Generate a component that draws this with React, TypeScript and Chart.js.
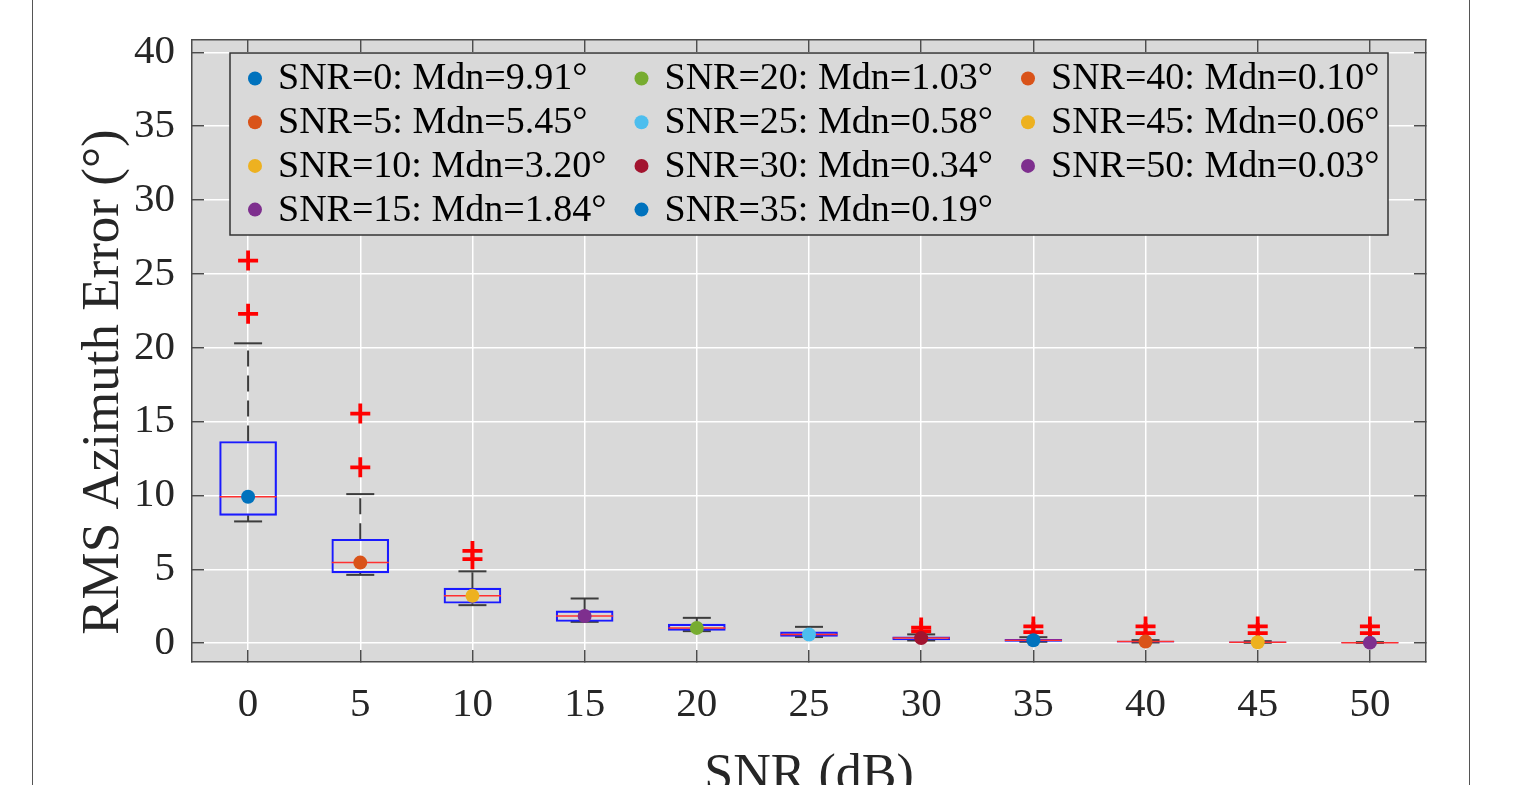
import React, { useEffect, useRef } from 'react';
import { Chart, registerables } from 'chart.js';

Chart.register(...registerables);

// ---- data ----
const snrValues = [0, 5, 10, 15, 20, 25, 30, 35, 40, 45, 50];
const medians = [9.91, 5.45, 3.2, 1.84, 1.03, 0.58, 0.34, 0.19, 0.1, 0.06, 0.03];
const q1 = [8.65, 4.75, 2.7, 1.46, 0.86, 0.45, 0.22, 0.12, 0.06, 0.04, 0.02];
const q3 = [13.65, 7.03, 3.72, 2.18, 1.28, 0.76, 0.42, 0.26, 0.13, 0.08, 0.04];
const whiskerLow = [8.24, 4.62, 2.57, 1.44, 0.81, 0.41, 0.18, 0.09, 0.04, 0.02, 0.01];
const whiskerHigh = [20.3, 10.09, 4.86, 3.02, 1.71, 1.1, 0.59, 0.4, 0.2, 0.13, 0.07];
const outliers = [
  [25.9, 22.3],
  [15.54, 11.9],
  [6.24, 5.68],
  [],
  [],
  [],
  [1.05, 0.8],
  [1.13, 0.74],
  [1.13, 0.68],
  [1.13, 0.68],
  [1.13, 0.68],
];
const medianColors = [
  '#0072BD', '#D95319', '#EDB120', '#7E2F8E', '#77AC30', '#4DBEEE',
  '#A2142F', '#0072BD', '#D95319', '#EDB120', '#7E2F8E',
];
const yTickValues = [0, 5, 10, 15, 20, 25, 30, 35, 40];
const xTitle = 'SNR (dB)';
const yTitle = 'RMS Azimuth Error (°)';

// ---- style ----
const W = 1513;
const H = 830;
const FONT = '"Liberation Serif", "Times New Roman", serif';
const PLOT_BG = '#d9d9d9';
const TEXT = '#262626';
const AXIS = '#4d4d4d';
const WHISK = '#3c3c3c';

const bgPlugin = {
  id: 'plotBg',
  beforeDraw(chart: any) {
    const { ctx, chartArea } = chart;
    ctx.save();
    ctx.fillStyle = PLOT_BG;
    ctx.fillRect(chartArea.left, chartArea.top, chartArea.right - chartArea.left, chartArea.bottom - chartArea.top);
    ctx.restore();
  },
};

const yTitlePlugin = {
  id: 'yTitle',
  afterDraw(chart: any) {
    const { ctx, chartArea } = chart;
    ctx.save();
    ctx.translate(chartArea.left - 88, (chartArea.top + chartArea.bottom) / 2 + 31);
    ctx.rotate(-Math.PI / 2);
    ctx.font = `53px ${FONT}`;
    ctx.fillStyle = TEXT;
    ctx.textAlign = 'center';
    ctx.textBaseline = 'middle';
    ctx.fillText(yTitle, 0, 0);
    ctx.restore();
  },
};

const legendPlugin = {
  id: 'columnLegend',
  afterDatasetsDraw(chart: any) {
    const { ctx, chartArea } = chart;
    const left = chartArea.left + 38;
    const top = chartArea.top + 13;
    const w = 1158;
    const h = 182;
    ctx.save();
    ctx.fillStyle = PLOT_BG;
    ctx.fillRect(left, top, w, h);
    ctx.strokeStyle = '#333333';
    ctx.lineWidth = 1.5;
    ctx.strokeRect(left, top, w, h);
    const items = chart.data.datasets.filter((d: any) => d.isMedian);
    items.forEach((d: any, i: number) => {
      const col = Math.floor(i / 4);
      const row = i % 4;
      const mx = left + 25 + col * 386.5;
      const my = top + 25.5 + row * 43.7;
      ctx.beginPath();
      ctx.arc(mx, my, 7, 0, Math.PI * 2);
      ctx.fillStyle = d.backgroundColor;
      ctx.fill();
      ctx.fillStyle = '#000000';
      ctx.font = `38px ${FONT}`;
      ctx.textBaseline = 'middle';
      ctx.textAlign = 'left';
      ctx.fillText(d.label, mx + 23, my + 1);
    });
    ctx.restore();
  },
};

export default function App() {
  const ref = useRef<HTMLCanvasElement | null>(null);

  useEffect(() => {
    document.documentElement.style.overflow = 'hidden';
    document.body.style.overflow = 'hidden';
    const canvas = ref.current;
    if (!canvas) return;

    const medianDatasets = snrValues.map((s, i) => ({
      type: 'scatter',
      label: `SNR=${s}: Mdn=${medians[i].toFixed(2)}°`,
      isMedian: true,
      data: [{ x: s, y: medians[i] }],
      backgroundColor: medianColors[i],
      borderColor: medianColors[i],
      borderWidth: 0,
      pointRadius: 7,
      pointHoverRadius: 7,
      order: 1,
    }));

    const outlierData: any[] = [];
    snrValues.forEach((s, i) => outliers[i].forEach((v) => outlierData.push({ x: s, y: v })));

    const whiskerData: any[] = [];
    snrValues.forEach((s, i) => {
      whiskerData.push({ x: s, y: q3[i] }, { x: s, y: whiskerHigh[i] }, { x: s, y: null });
      whiskerData.push({ x: s, y: q1[i] }, { x: s, y: whiskerLow[i] }, { x: s, y: null });
    });

    const capData: any[] = [];
    snrValues.forEach((s, i) => {
      capData.push({ x: s, y: whiskerHigh[i] }, { x: s, y: whiskerLow[i] });
    });

    const datasets: any[] = [
      ...medianDatasets,
      {
        type: 'scatter',
        label: 'outliers',
        data: outlierData,
        pointStyle: 'cross',
        pointRadius: 10,
        pointHoverRadius: 10,
        borderColor: '#ff0000',
        pointBorderColor: '#ff0000',
        borderWidth: 3.8,
        pointBorderWidth: 3.8,
        order: 2,
      },
      {
        type: 'scatter',
        label: 'median',
        data: snrValues.map((s, i) => ({ x: s, y: medians[i] })),
        pointStyle: 'line',
        pointRadius: 28.5,
        pointHoverRadius: 28.5,
        borderColor: '#ff3030',
        pointBorderColor: '#ff3030',
        borderWidth: 1.5,
        pointBorderWidth: 1.5,
        order: 3,
      },
      {
        type: 'bar',
        label: 'box',
        data: snrValues.map((s, i) => ({ x: s, y: [q1[i], q3[i]] })),
        backgroundColor: 'rgba(0,0,0,0)',
        borderColor: '#1a1aff',
        borderWidth: 1.5,
        borderSkipped: false,
        barThickness: 57,
        order: 4,
      },
      {
        type: 'scatter',
        label: 'caps',
        data: capData,
        pointStyle: 'line',
        pointRadius: 14,
        pointHoverRadius: 14,
        borderColor: WHISK,
        pointBorderColor: WHISK,
        borderWidth: 2,
        pointBorderWidth: 2,
        order: 5,
      },
      {
        type: 'scatter',
        label: 'whiskers',
        data: whiskerData,
        showLine: true,
        spanGaps: false,
        pointRadius: 0,
        pointHoverRadius: 0,
        borderColor: WHISK,
        borderWidth: 2,
        borderDash: [16, 9],
        order: 6,
      },
    ];

    const gridCommon = {
      color: '#ffffff',
      lineWidth: 1.5,
      tickColor: AXIS,
      tickWidth: 1.5,
      tickLength: -12,
      drawTicks: true,
    };
    const borderCommon = { display: true, color: AXIS, width: 1.5 };

    const chart = new Chart(canvas, {
      type: 'scatter',
      data: { datasets },
      plugins: [bgPlugin, legendPlugin, yTitlePlugin],
      options: {
        animation: false,
        responsive: false,
        events: [],
        layout: { padding: { left: 0, right: W - 1426, top: 0, bottom: 0 } },
        plugins: { legend: { display: false }, tooltip: { enabled: false } },
        scales: {
          x: {
            type: 'linear',
            position: 'bottom',
            min: -2.5,
            max: 52.5,
            offset: false,
            afterBuildTicks: (s: any) => {
              s.ticks = snrValues.map((v) => ({ value: v }));
            },
            afterFit: (s: any) => {
              s.height = H - 662;
              s.paddingLeft = 0;
              s.paddingRight = 0;
            },
            ticks: {
              font: { size: 41, family: FONT },
              color: TEXT,
              padding: 31,
              maxRotation: 0,
              autoSkip: false,
              callback: (v: any) => String(v),
            },
            grid: { ...gridCommon, offset: false },
            border: borderCommon,
            title: {
              display: true,
              text: xTitle,
              font: { size: 52, family: FONT },
              color: TEXT,
              padding: { top: 0, bottom: 22 },
            },
          },
          x2: {
            type: 'linear',
            position: 'top',
            min: -2.5,
            max: 52.5,
            offset: false,
            afterBuildTicks: (s: any) => {
              s.ticks = snrValues.map((v) => ({ value: v }));
            },
            afterFit: (s: any) => {
              s.height = 40;
              s.paddingLeft = 0;
              s.paddingRight = 0;
            },
            ticks: { display: false },
            grid: { ...gridCommon, drawOnChartArea: false },
            border: borderCommon,
          },
          y: {
            type: 'linear',
            position: 'left',
            min: -1.28,
            max: 40.84,
            afterBuildTicks: (s: any) => {
              s.ticks = yTickValues.map((v) => ({ value: v }));
            },
            afterFit: (s: any) => {
              s.width = 192;
              s.paddingTop = 0;
              s.paddingBottom = 0;
            },
            ticks: {
              font: { size: 41, family: FONT },
              color: TEXT,
              padding: 29,
              callback: (v: any) => String(v),
            },
            grid: gridCommon,
            border: borderCommon,
          },
          y2: {
            type: 'linear',
            position: 'right',
            min: -1.28,
            max: 40.84,
            afterBuildTicks: (s: any) => {
              s.ticks = yTickValues.map((v) => ({ value: v }));
            },
            afterFit: (s: any) => {
              s.width = 0;
              s.paddingTop = 0;
              s.paddingBottom = 0;
            },
            ticks: { display: false },
            grid: { ...gridCommon, drawOnChartArea: false },
            border: borderCommon,
          },
        },
      } as any,
    } as any);

    return () => {
      chart.destroy();
    };
  }, []);

  return (
    <div style={{ position: 'absolute', left: 0, top: 0, width: W, height: 785, overflow: 'hidden', background: '#fff' }}>
      <canvas ref={ref} width={W} height={H} style={{ position: 'absolute', left: 0, top: 0, width: W, height: H }} />
      <div
        style={{
          position: 'absolute',
          left: 32,
          top: 0,
          width: 1438,
          height: 785,
          boxSizing: 'border-box',
          borderLeft: '1.5px solid #555',
          borderRight: '1.5px solid #555',
          pointerEvents: 'none',
        }}
      />
    </div>
  );
}
